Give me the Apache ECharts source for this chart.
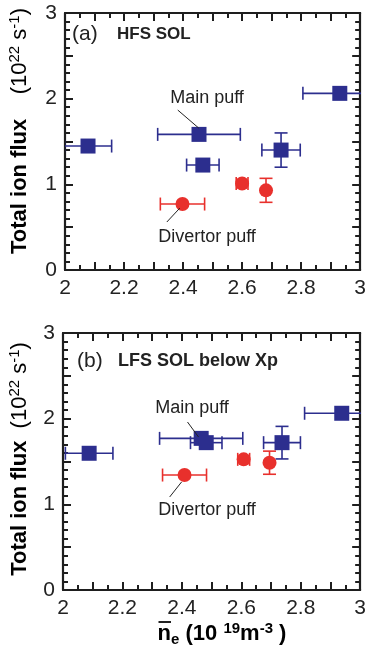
<!DOCTYPE html>
<html><head><meta charset="utf-8">
<script src="https://cdn.jsdelivr.net/npm/echarts@6/dist/echarts.min.js"></script>
<style>html,body{margin:0;padding:0;background:#fff}#c{width:369px;height:655px}</style>
</head><body><div id="c"></div>
<script>
// ---------- data ----------
const xTickLabels = ['2', '2.2', '2.4', '2.6', '2.8', '3'];
const yTickLabels = ['0', '1', '2', '3'];

// panel (a) HFS SOL
const mainA_x    = [2.078, 2.454, 2.467, 2.732, 2.931];
const mainA_y    = [1.447, 1.583, 1.225, 1.400, 2.062];
const mainA_xerr = [0.080, 0.140, 0.055, 0.065, 0.125];
const mainA_yerr = [0, 0, 0, 0.200, 0];
const divA_x     = [2.398, 2.600, 2.681];
const divA_y     = [0.770, 1.010, 0.930];
const divA_xerr  = [0.075, 0.020, 0];
const divA_yerr  = [0, 0, 0.140];

// panel (b) LFS SOL below Xp
const mainB_x    = [2.088, 2.465, 2.482, 2.737, 2.938];
const mainB_y    = [1.596, 1.770, 1.720, 1.720, 2.063];
const mainB_xerr = [0.080, 0.140, 0.053, 0.062, 0.125];
const mainB_yerr = [0, 0, 0, 0.190, 0];
const divB_x     = [2.409, 2.608, 2.695];
const divB_y     = [1.342, 1.525, 1.486];
const divB_xerr  = [0.074, 0.020, 0];
const divB_yerr  = [0, 0, 0.135];

// annotation leader lines (data coords)
const leadMainA = [[2.382, 1.867], [2.453, 1.657]];
const leadDivA  = [[2.345, 0.560], [2.389, 0.723]];
const leadMainB = [[2.419, 1.961], [2.456, 1.786]];
const leadDivB  = [[2.359, 1.086], [2.399, 1.261]];

// ---------- styles ----------
const FONT = '"Liberation Sans", Arial, Helvetica, sans-serif';
const BLUE = '#2c2e8e';
const RED = '#e8302c';
const INK = '#1e1e1e';

function pack(xs, ys, xe, ye) { return xs.map((x, i) => [x, ys[i], xe[i], ye[i]]); }

function errRender(color) {
  return function (params, api) {
    const x = api.value(0), y = api.value(1), xe = api.value(2), ye = api.value(3);
    const cap = 6.5;
    const style = { stroke: color, lineWidth: 1.6, fill: null };
    const ch = [];
    if (xe > 0) {
      const l = api.coord([x - xe, y]), r = api.coord([x + xe, y]);
      ch.push({ type: 'line', shape: { x1: l[0], y1: l[1], x2: r[0], y2: r[1] }, style });
      ch.push({ type: 'line', shape: { x1: l[0], y1: l[1] - cap, x2: l[0], y2: l[1] + cap }, style });
      ch.push({ type: 'line', shape: { x1: r[0], y1: r[1] - cap, x2: r[0], y2: r[1] + cap }, style });
    }
    if (ye > 0) {
      const b = api.coord([x, y - ye]), t = api.coord([x, y + ye]);
      ch.push({ type: 'line', shape: { x1: b[0], y1: b[1], x2: t[0], y2: t[1] }, style });
      ch.push({ type: 'line', shape: { x1: b[0] - cap, y1: b[1], x2: b[0] + cap, y2: b[1] }, style });
      ch.push({ type: 'line', shape: { x1: t[0] - cap, y1: t[1], x2: t[0] + cap, y2: t[1] }, style });
    }
    return { type: 'group', children: ch };
  };
}

function lineAx() { return { show: true, onZero: false, lineStyle: { color: INK, width: 2.2 } }; }
function tickSt() { return { color: INK, width: 2 }; }

function xAxes(g) {
  const mk = (pos, lab) => ({
    type: 'value', gridIndex: g, min: 2, max: 3, interval: 0.1, position: pos,
    axisLine: lineAx(), splitLine: { show: false },
    axisTick: { show: true, inside: true, length: 8, lineStyle: tickSt() },
    minorTick: { show: true, splitNumber: 2, length: 5, lineStyle: tickSt() },
    axisLabel: lab
  });
  return [
    mk('bottom', {
      show: true, fontSize: 21, color: '#222', fontFamily: FONT, margin: 8,
      formatter: v => { const k = Math.round(v * 10); return k % 2 === 0 ? xTickLabels[(k - 20) / 2] : ''; }
    }),
    mk('top', { show: false })
  ];
}
function yAxes(g) {
  const mk = (pos, lab) => ({
    type: 'value', gridIndex: g, min: 0, max: 3, interval: 0.5, position: pos,
    axisLine: lineAx(), splitLine: { show: false },
    axisTick: { show: true, inside: true, length: 8, lineStyle: tickSt() },
    minorTick: { show: true, splitNumber: 5, length: 5, lineStyle: tickSt() },
    axisLabel: lab
  });
  return [
    mk('left', {
      show: true, fontSize: 21, color: '#222', fontFamily: FONT, margin: 8,
      formatter: v => { const k = Math.round(v * 2); return k % 2 === 0 ? yTickLabels[k / 2] : ''; }
    }),
    mk('right', { show: false })
  ];
}

function leader(pts) {
  return {
    silent: true, symbol: ['none', 'none'], animation: false,
    label: { show: false },
    lineStyle: { color: '#222', width: 1, type: 'solid' },
    data: [[{ coord: pts[0] }, { coord: pts[1] }]]
  };
}

function panelSeries(g, main, div, leadMain, leadDiv) {
  const xi = g * 2, yi = g * 2;
  return [
    { type: 'custom', xAxisIndex: xi, yAxisIndex: yi, clip: true, renderItem: errRender(BLUE),
      data: main, encode: { x: 0, y: 1 }, z: 2, silent: true },
    { type: 'custom', xAxisIndex: xi, yAxisIndex: yi, clip: true, renderItem: errRender(RED),
      data: div, encode: { x: 0, y: 1 }, z: 2, silent: true },
    { type: 'scatter', xAxisIndex: xi, yAxisIndex: yi, symbol: 'rect', symbolSize: 15,
      itemStyle: { color: BLUE, opacity: 1 }, data: main.map(d => [d[0], d[1]]), z: 3,
      markLine: leader(leadMain) },
    { type: 'scatter', xAxisIndex: xi, yAxisIndex: yi, symbol: 'circle', symbolSize: 14,
      itemStyle: { color: RED, opacity: 1 }, data: div.map(d => [d[0], d[1]]), z: 3,
      markLine: leader(leadDiv) }
  ];
}

const rich = {
  b: { fontFamily: FONT, fontWeight: 'bold', fontSize: 22, lineHeight: 26, color: '#222' },
  n: { fontFamily: FONT, fontSize: 22, lineHeight: 26, color: '#222' },
  s: { fontFamily: FONT, fontSize: 15, lineHeight: 16, verticalAlign: 'top', color: '#222' },
  bs: { fontFamily: FONT, fontWeight: 'bold', fontSize: 15, lineHeight: 16, verticalAlign: 'top', color: '#222' },
  be: { fontFamily: FONT, fontWeight: 'bold', fontSize: 15, lineHeight: 16, verticalAlign: 'bottom', color: '#222' }
};

function txt(x, y, text, size, bold, align) {
  return { type: 'text', x, y, silent: true,
    style: { text, fontFamily: FONT, fontSize: size, fontWeight: bold ? 'bold' : 'normal',
      fill: '#222', align: align || 'center', verticalAlign: 'middle' } };
}

const option = {
  animation: false,
  backgroundColor: '#fff',
  grid: [
    { left: 65, top: 13, right: 8, height: 257 },
    { left: 63, top: 333, right: 8, height: 257 }
  ],
  xAxis: [...xAxes(0), ...xAxes(1)],
  yAxis: [...yAxes(0), ...yAxes(1)],
  series: [
    ...panelSeries(0, pack(mainA_x, mainA_y, mainA_xerr, mainA_yerr), pack(divA_x, divA_y, divA_xerr, divA_yerr), leadMainA, leadDivA),
    ...panelSeries(1, pack(mainB_x, mainB_y, mainB_xerr, mainB_yerr), pack(divB_x, divB_y, divB_xerr, divB_yerr), leadMainB, leadDivB)
  ],
  graphic: [
    txt(72, 34, '(a)', 21, false, 'left'),
    txt(117, 34, 'HFS SOL', 17, true, 'left'),
    txt(207, 98, 'Main puff', 18, false),
    txt(207, 237, 'Divertor puff', 18, false),
    txt(77, 361, '(b)', 21, false, 'left'),
    txt(118, 361, 'LFS SOL below Xp', 18, true, 'left'),
    txt(192, 408, 'Main puff', 18, false),
    txt(207, 510, 'Divertor puff', 18, false),
    { type: 'text', x: 20, y: 131, rotation: Math.PI / 2, silent: true,
      style: { text: '{b|Total ion flux}{n|    (10}{s|22}{n| s}{s|-1}{n|)}', rich, align: 'center', verticalAlign: 'middle' } },
    { type: 'text', x: 20, y: 459, rotation: Math.PI / 2, silent: true,
      style: { text: '{b|Total ion flux}{n|  (10}{s|22}{n| s}{s|-1}{n|)}', rich, align: 'center', verticalAlign: 'middle' } },
    { type: 'text', x: 222, y: 634, silent: true,
      style: { text: '{b|n}{be|e}{b| (10 }{bs|19}{b|m}{bs|-3}{b| )}', rich, align: 'center', verticalAlign: 'middle' } },
    { type: 'line', silent: true, shape: { x1: 158.5, y1: 622, x2: 171, y2: 622 }, style: { stroke: '#222', lineWidth: 2 } }
  ]
};

const chart = echarts.init(document.getElementById('c'), null, { renderer: 'canvas' });
chart.setOption(option);
</script>
</body></html>
